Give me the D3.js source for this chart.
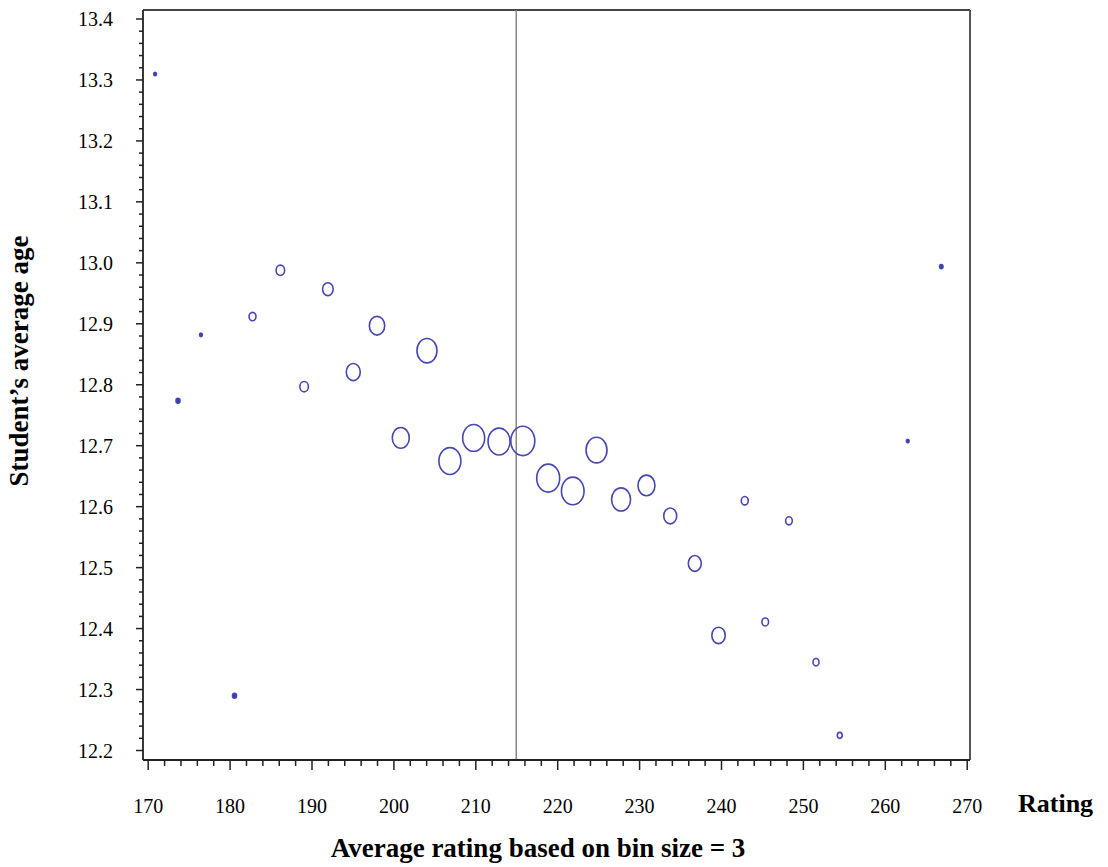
<!DOCTYPE html>
<html>
<head>
<meta charset="utf-8">
<script src="https://cdn.jsdelivr.net/npm/d3@7"></script>
<style>
  html, body { margin: 0; padding: 0; background: #fff; }
  svg { display: block; }
  svg text { font-family: "Liberation Serif", "Times New Roman", serif !important; fill: #000; }
</style>
</head>
<body>
<svg id="chart" width="1108" height="867"></svg>
<script>
// ---- data ----
const ratings = [170.9, 173.7, 176.5, 180.6, 182.8, 186.2, 189.1, 192.0, 195.1, 198.0,
                 200.9, 204.1, 206.9, 209.8, 212.9, 215.8, 218.9, 221.9, 224.8, 227.8,
                 230.9, 233.8, 236.8, 239.7, 242.9, 245.4, 248.3, 251.6, 254.5, 262.8, 266.9];
const ages = [13.309, 12.773, 12.881, 12.289, 12.911, 12.987, 12.796, 12.956, 12.820, 12.896,
              12.712, 12.855, 12.674, 12.712, 12.706, 12.707, 12.646, 12.625, 12.692, 12.611,
              12.634, 12.584, 12.506, 12.388, 12.609, 12.410, 12.576, 12.344, 12.224, 12.707, 12.993];
const counts = [2, 4, 2, 4, 12, 18, 18, 28, 49, 59,
                72, 100, 121, 121, 121, 144, 132, 128, 110, 90,
                72, 42, 42, 45, 12, 11, 11, 9, 6, 2, 3];
const xTicks = [170, 180, 190, 200, 210, 220, 230, 240, 250, 260, 270];
const yTicks = [12.2, 12.3, 12.4, 12.5, 12.6, 12.7, 12.8, 12.9, 13.0, 13.1, 13.2, 13.3, 13.4];
const refRating = 215;

const points = ratings.map((r, i) => ({ rating: r, age: ages[i], n: counts[i] }));

// ---- layout ----
const svg = d3.select("#chart");
const frame = { left: 143, right: 970, top: 10, bottom: 760 };
const serif = "'Liberation Serif', 'Times New Roman', serif";

const x = d3.scaleLinear().domain([170, 270]).range([147.7, 966.7]);
const y = d3.scaleLinear().domain([12.2, 13.4]).range([750, 18.5]);
const r = d3.scaleSqrt().domain([0, 144]).range([0, 12]);

const xMinor = d3.range(170, 270.01, 2).filter(v => v % 10 !== 0);
const yMinor = d3.range(0, 61).map(i => +(12.2 + i * 0.02).toFixed(2))
                 .filter(v => Math.abs(Math.round(v * 10) - v * 10) > 1e-6);

// frame
svg.append("line").attr("x1", frame.left).attr("x2", frame.right)
   .attr("y1", frame.top).attr("y2", frame.top)
   .attr("stroke", "#444").attr("stroke-width", 2);
svg.append("line").attr("x1", frame.right).attr("x2", frame.right)
   .attr("y1", frame.top).attr("y2", frame.bottom)
   .attr("stroke", "#555").attr("stroke-width", 2);

// reference line
svg.append("line").attr("x1", x(refRating)).attr("x2", x(refRating))
   .attr("y1", frame.top).attr("y2", frame.bottom)
   .attr("stroke", "#888").attr("stroke-width", 1.5);

// x axis
const gx = svg.append("g").attr("transform", `translate(0,${frame.bottom})`);
gx.call(d3.axisBottom(x).tickValues(xMinor).tickSize(6).tickFormat(""));
gx.select(".domain").remove();
const gx2 = svg.append("g").attr("transform", `translate(0,${frame.bottom})`);
gx2.call(d3.axisBottom(x).tickValues(xTicks).tickSize(10).tickFormat(d3.format("d")));
gx2.select(".domain").remove();
gx2.attr("font-family", serif).attr("font-size", 20);
gx2.selectAll("text").attr("y", 53).attr("dy", 0)
   .attr("font-family", serif).attr("font-size", 20);

// y axis
const gy = svg.append("g").attr("transform", `translate(${frame.left},0)`);
gy.call(d3.axisLeft(y).tickValues(yMinor).tickSize(4).tickFormat(""));
gy.select(".domain").remove();
const gy2 = svg.append("g").attr("transform", `translate(${frame.left},0)`);
gy2.call(d3.axisLeft(y).tickValues(yTicks).tickSize(7).tickFormat(d3.format(".1f")));
gy2.select(".domain").remove();
gy2.attr("font-family", serif).attr("font-size", 20);
gy2.selectAll("text").attr("x", -30).attr("dy", "0.35em")
   .attr("font-family", serif).attr("font-size", 20);
svg.selectAll(".tick line").attr("stroke", "#222").attr("stroke-width", 1.5);

// axis lines
svg.append("line").attr("x1", frame.left).attr("x2", frame.right)
   .attr("y1", frame.bottom).attr("y2", frame.bottom)
   .attr("stroke", "#222").attr("stroke-width", 2);
svg.append("line").attr("x1", frame.left).attr("x2", frame.left)
   .attr("y1", frame.top).attr("y2", frame.bottom)
   .attr("stroke", "#222").attr("stroke-width", 1.8);

// bubbles
svg.append("g").selectAll("ellipse").data(points).join("ellipse")
   .attr("cx", d => x(d.rating))
   .attr("cy", d => y(d.age))
   .attr("rx", d => Math.max(1.2, r(d.n)))
   .attr("ry", d => Math.max(1.2, r(d.n) * 1.22))
   .attr("fill", d => r(d.n) < 2.2 ? "#3a3aa8" : "none")
   .attr("stroke", "#4646b4")
   .attr("stroke-width", 1.6);

// titles
svg.append("text").attr("x", 1018).attr("y", 812)
   .attr("font-family", serif)
   .style("font-size", "26px").style("font-weight", "bold").text("Rating");
svg.append("text").attr("x", 538).attr("y", 857).attr("text-anchor", "middle")
   .attr("font-family", serif)
   .style("font-size", "27px").style("font-weight", "bold")
   .text("Average rating based on bin size = 3");
svg.append("text").attr("transform", "translate(28,361) rotate(-90)")
   .attr("text-anchor", "middle")
   .attr("font-family", serif)
   .style("font-size", "27px").style("font-weight", "bold")
   .text("Student’s average age");
</script>
</body>
</html>
